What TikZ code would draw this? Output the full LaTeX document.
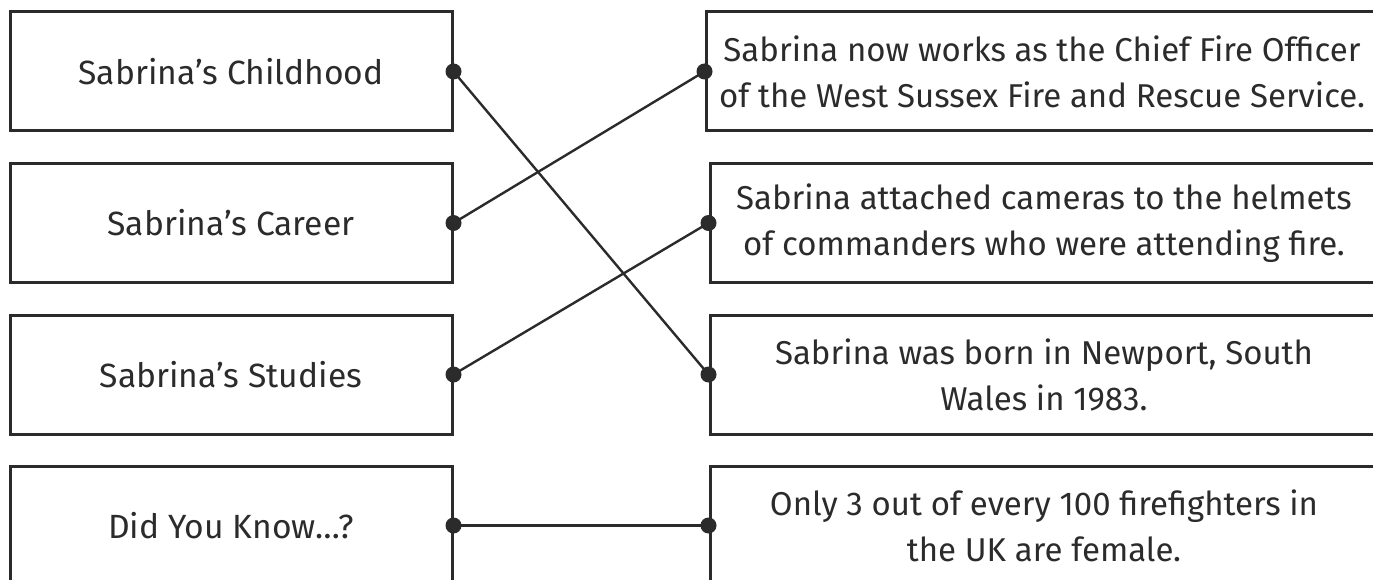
\documentclass[tikz,border=0pt]{standalone}
\usepackage{fontspec}
\setmainfont{Fira Sans}
\definecolor{ink}{HTML}{2B2B2B}
\begin{document}
\begin{tikzpicture}[x=1pt,y=-1pt,
  card/.style={draw=ink, line width=3pt, rectangle, inner sep=0pt, text=ink,
    font=\fontsize{33}{46}\selectfont, align=center},
  lcard/.style={card, minimum width=442pt, minimum height=119pt,
    font=\fontsize{33.6}{46}\selectfont},
  rcard/.style={card, minimum width=668pt, minimum height=119pt},
  link/.style={draw=ink, line width=2.4pt},
  pin/.style={circle, fill=ink, inner sep=0pt, minimum size=16pt}]
\clip (0,0) rectangle (1373,580);
% left cards
\node[lcard] (l1) at (231,71.5) {Sabrina’s Childhood};
\node[lcard] (l2) at (231,223) {Sabrina’s Career};
\node[lcard] (l3) at (231,374.5) {Sabrina’s Studies};
\node[lcard] (l4) at (231,525.5) {Did You Know…?};
% right cards
\node[rcard, minimum width=672pt] (r1) at (1042,71.5) {Sabrina now works as the Chief Fire Officer\\of the West Sussex Fire and Rescue Service.};
\node[rcard] (r2) at (1044,223) {Sabrina attached cameras to the helmets\\of commanders who were attending fire.};
\node[rcard] (r3) at (1044,374.5) {Sabrina was born in Newport, South\\Wales in 1983.};
\node[rcard] (r4) at (1044,525.5) {Only 3 out of every 100 firefighters in\\the UK are female.};
% connection points
\coordinate (pl1) at (l1.east); \coordinate (pl2) at (l2.east);
\coordinate (pl3) at (l3.east); \coordinate (pl4) at (l4.east);
\coordinate (pr1) at (r1.west); \coordinate (pr2) at (r2.west);
\coordinate (pr3) at (r3.west); \coordinate (pr4) at (r4.west);
% links
\draw[link] (pl1) -- (pr3);
\draw[link] (pl2) -- (pr1);
\draw[link] (pl3) -- (pr2);
\draw[link] (pl4) -- (pr4);
% pins
\node[pin] (dl1) at (pl1) {}; \node[pin] (dl2) at (pl2) {};
\node[pin] (dl3) at (pl3) {}; \node[pin] (dl4) at (pl4) {};
\node[pin] (dr1) at (pr1) {}; \node[pin] (dr2) at (pr2) {};
\node[pin] (dr3) at (pr3) {}; \node[pin] (dr4) at (pr4) {};
\end{tikzpicture}
\end{document}
